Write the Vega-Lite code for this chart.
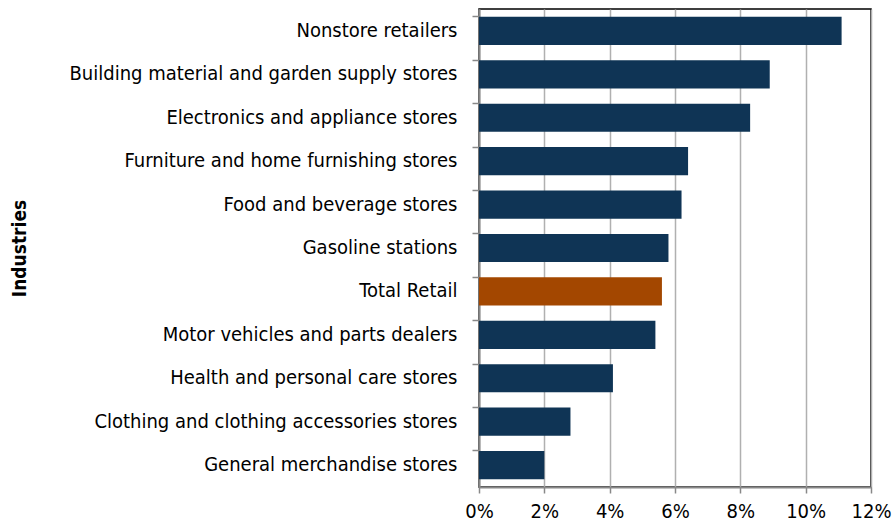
{
  "$schema": "https://vega.github.io/schema/vega-lite/v6.json",
  "width": 392,
  "height": 478,
  "padding": {"left": 10, "top": 9, "right": 21, "bottom": 5},
  "background": "white",
  "config": {
    "view": {"stroke": "black", "strokeWidth": 1.5},
    "font": "DejaVu Sans Condensed"
  },
  "data": {
    "values": [
      {"industry": "Nonstore retailers", "growth": 0.111, "type": "Industry"},
      {"industry": "Building material and garden supply stores", "growth": 0.089, "type": "Industry"},
      {"industry": "Electronics and appliance stores", "growth": 0.083, "type": "Industry"},
      {"industry": "Furniture and home furnishing stores", "growth": 0.064, "type": "Industry"},
      {"industry": "Food and beverage stores", "growth": 0.062, "type": "Industry"},
      {"industry": "Gasoline stations", "growth": 0.058, "type": "Industry"},
      {"industry": "Total Retail", "growth": 0.056, "type": "Total"},
      {"industry": "Motor vehicles and parts dealers", "growth": 0.054, "type": "Industry"},
      {"industry": "Health and personal care stores", "growth": 0.041, "type": "Industry"},
      {"industry": "Clothing and clothing accessories stores", "growth": 0.028, "type": "Industry"},
      {"industry": "General merchandise stores", "growth": 0.02, "type": "Industry"}
    ]
  },
  "mark": {"type": "bar"},
  "encoding": {
    "y": {
      "field": "industry",
      "type": "nominal",
      "sort": null,
      "scale": {"paddingInner": 0.35, "paddingOuter": 0.18},
      "axis": {
        "title": "Industries",
        "titleFont": "DejaVu Sans Condensed",
        "titleFontSize": 19,
        "titleFontWeight": "bold",
        "titleColor": "black",
        "titleX": -450,
        "labelFont": "DejaVu Sans Condensed",
        "labelFontSize": 20,
        "labelColor": "black",
        "labelPadding": 15,
        "labelLimit": 500,
        "bandPosition": 0,
        "tickColor": "#888888",
        "tickSize": 7,
        "tickWidth": 1.5,
        "domainColor": "#888888",
        "domainWidth": 2,
        "grid": false
      }
    },
    "x": {
      "field": "growth",
      "type": "quantitative",
      "scale": {"domain": [0, 0.12], "nice": false},
      "axis": {
        "title": null,
        "format": ".0%",
        "values": [0, 0.02, 0.04, 0.06, 0.08, 0.1, 0.12],
        "labelFont": "DejaVu Sans Condensed",
        "labelFontSize": 20,
        "labelColor": "black",
        "labelPadding": 8,
        "labelFlush": false,
        "labelOverlap": false,
        "tickColor": "#888888",
        "tickSize": 6,
        "tickWidth": 1.5,
        "domainColor": "#888888",
        "domainWidth": 2,
        "grid": true,
        "gridColor": "#b0b0b0",
        "gridWidth": 1.5
      }
    },
    "color": {
      "field": "type",
      "type": "nominal",
      "scale": {"domain": ["Industry", "Total"], "range": ["#0f3455", "#a34700"]},
      "legend": null
    }
  }
}
